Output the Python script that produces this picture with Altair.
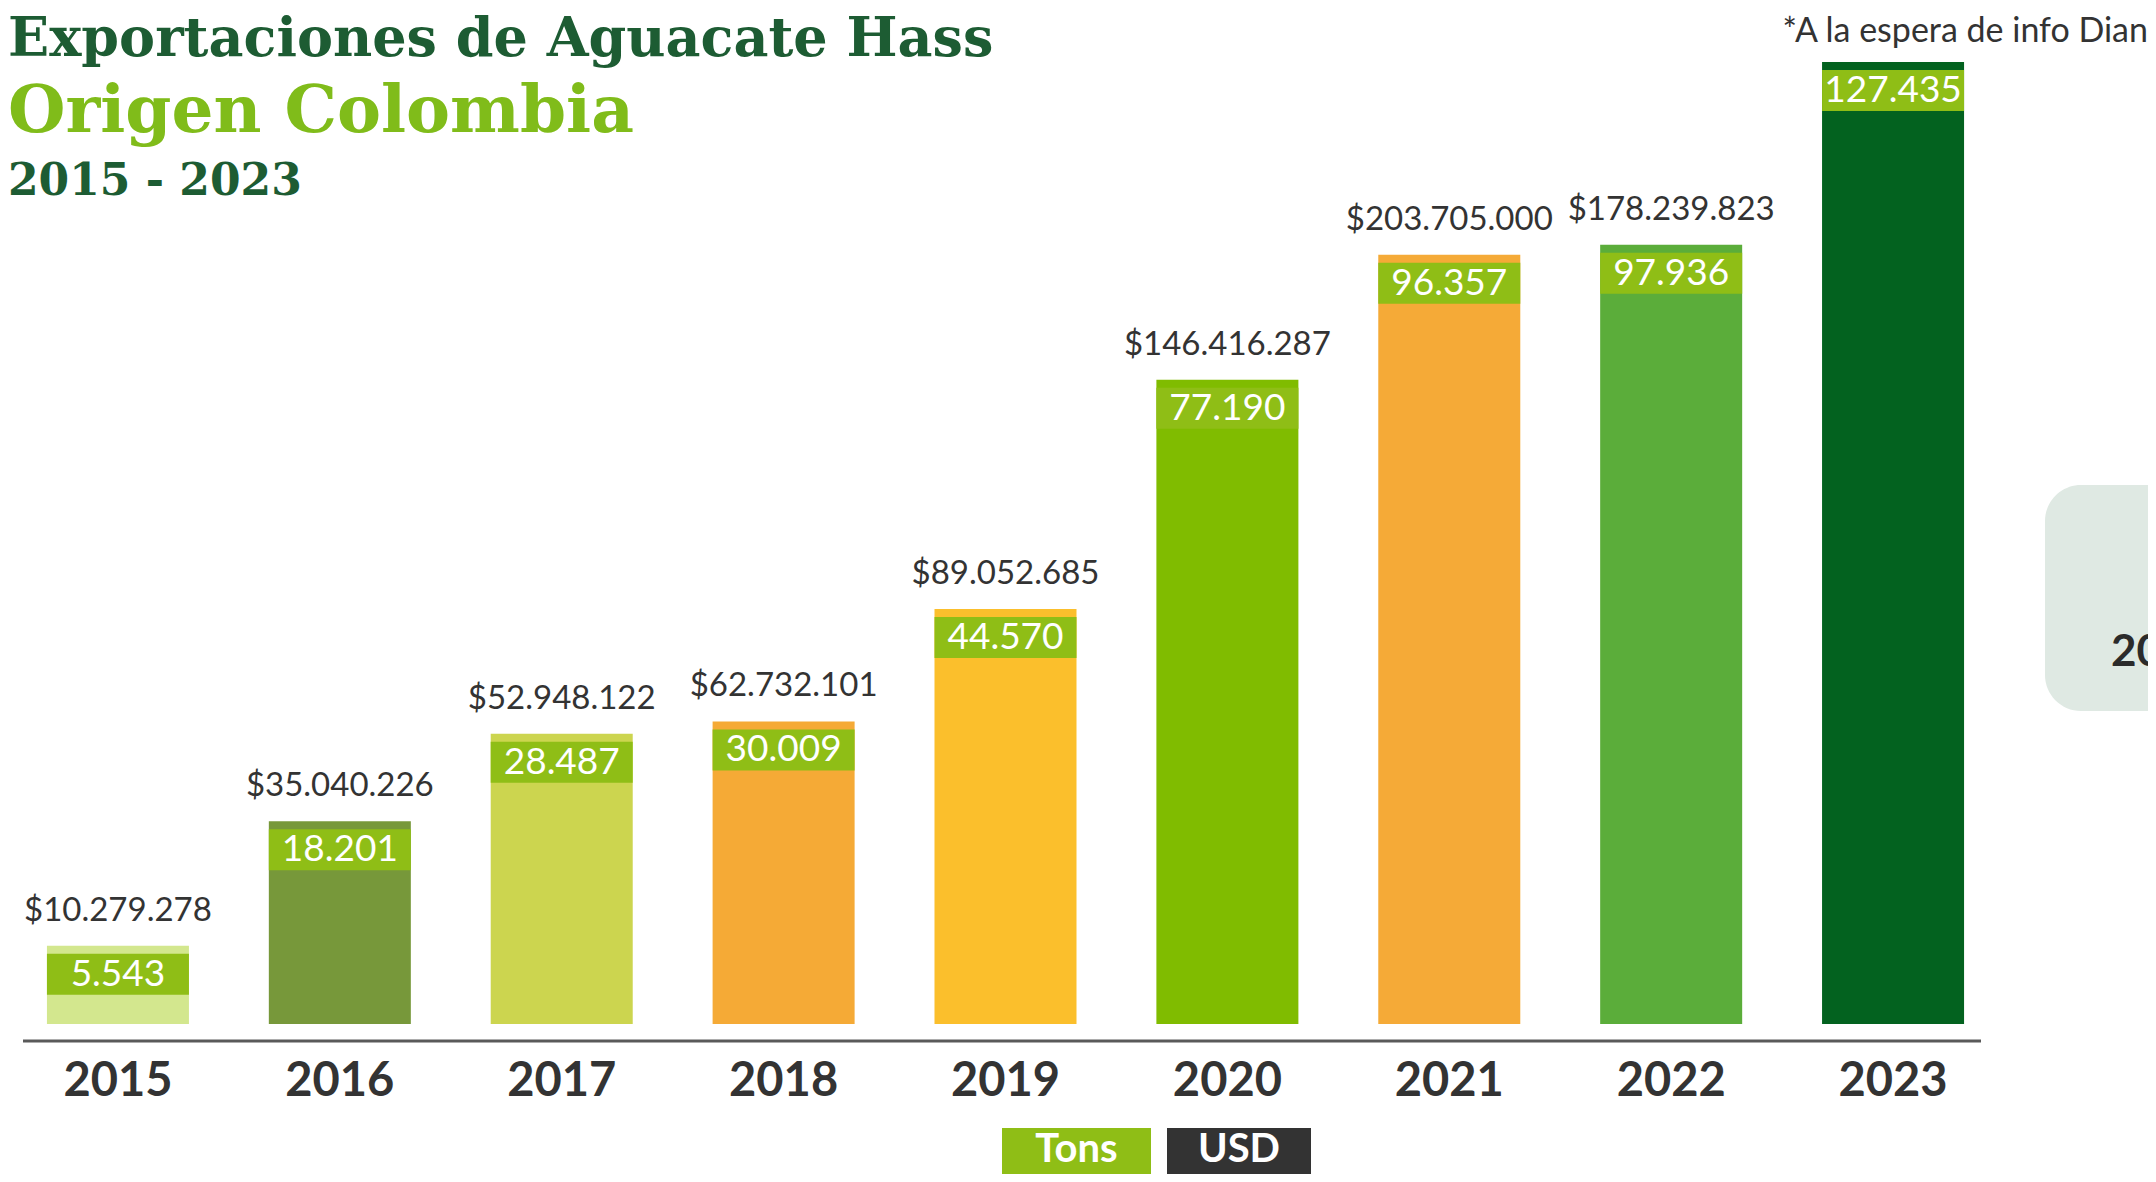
import altair as alt
import pandas as pd

# ---- data ----
years = ["2015", "2016", "2017", "2018", "2019", "2020", "2021", "2022", "2023"]
tons = [5543, 18201, 28487, 30009, 44570, 77190, 96357, 97936, 127435]
usd = [10279278, 35040226, 52948122, 62732101, 89052685, 146416287, 203705000, 178239823, None]
bar_colors = ["#d3e78e", "#77983a", "#ccd54f", "#f5aa36", "#fbbf2c",
              "#80bc00", "#f5aa37", "#5bad3a", "#03621f"]

title_1 = "Exportaciones de Aguacate Hass"
title_2 = "Origen Colombia"
title_3 = "2015 - 2023"
note = "*A la espera de info Dian"
legend_items = ["Tons", "USD"]
legend_colors = ["#8fbe16", "#333333"]
side_text = "20"

def fmt(v):
    return "" if v is None else "$" + f"{int(v):,}".replace(",", ".")

df = pd.DataFrame({
    "year": years,
    "tons": tons,
    "tons_label": [f"{t:,}".replace(",", ".") for t in tons],
    "usd_label": [fmt(v) for v in usd],
    "color": bar_colors,
})

W, H = 2140, 1166
NUM_FONT = "Lato"
TITLE_FONT = "DejaVu Serif"
band_color = "#8fbe16"

x_enc = alt.X("year:N", sort=years, axis=None,
              scale=alt.Scale(range=[-1, 1996], paddingInner=0.36, paddingOuter=0.18))
y_scale = alt.Scale(type="pow", exponent=0.8, domain=[0, 127435], range=[1016, 54])
y_enc = alt.Y("tons:Q", axis=None, scale=y_scale)

base = alt.Chart(df)

bars = base.mark_bar().encode(
    x=x_enc, y=y_enc, y2=alt.datum(0),
    color=alt.Color("color:N", scale=None),
)

bands = base.mark_bar(yOffset=8, y2Offset=49, color=band_color).encode(
    x=x_enc, y=y_enc, y2="tons:Q",
)

tons_text = base.mark_text(font=NUM_FONT, fontSize=37, color="white",
                           baseline="middle", dy=29).encode(
    x=x_enc, y=y_enc, text="tons_label:N")

usd_text = base.mark_text(font=NUM_FONT, fontSize=33, color="#333333",
                          baseline="middle", dy=-35).encode(
    x=x_enc, y=y_enc, text="usd_label:N")

year_text = base.mark_text(font=NUM_FONT, fontSize=47, fontWeight="bold", color="#333333",
                           baseline="middle").encode(
    x=x_enc, y=alt.value(1074), text="year:N")

axis_line = alt.Chart(pd.DataFrame({"a": [0]})).mark_rule(color="#5a5a5a", strokeWidth=3).encode(
    x=alt.value(15), x2=alt.value(1973), y=alt.value(1033))

def text_layer(txt, **kw):
    pos = {k: kw.pop(k) for k in ["x", "y"]}
    return alt.Chart(pd.DataFrame({"t": [txt]})).mark_text(**kw).encode(
        x=alt.value(pos["x"]), y=alt.value(pos["y"]), text="t:N")

t1 = text_layer(title_1, x=0, y=48, font=TITLE_FONT, fontSize=54, fontWeight="bold",
                color="#1d5c33", align="left", baseline="alphabetic")
t2 = text_layer(title_2, x=0, y=124, font=TITLE_FONT, fontSize=66, fontWeight="bold",
                color="#80bc1a", align="left", baseline="alphabetic")
t3 = text_layer(title_3, x=0, y=187, font=TITLE_FONT, fontSize=44, fontWeight="bold",
                color="#1d5c33", align="left", baseline="alphabetic")
t_note = text_layer(note, x=2140, y=24, font=NUM_FONT, fontSize=34, color="#333333",
                    align="right", baseline="middle")

# legend boxes
leg_layers = []
leg_x = [(994, 1143), (1159, 1303)]
for (x0, x1), lab, col in zip(leg_x, legend_items, legend_colors):
    d = pd.DataFrame({"t": [lab]})
    leg_layers.append(alt.Chart(d).mark_rect(color=col).encode(
        x=alt.value(x0), x2=alt.value(x1), y=alt.value(1120), y2=alt.value(1200)))
    leg_layers.append(alt.Chart(d).mark_text(font=NUM_FONT, fontSize=40, fontWeight="bold",
                                             color="white", baseline="middle").encode(
        x=alt.value((x0 + x1) / 2), y=alt.value(1142), text="t:N"))

# side box (cut off at the right edge)
side_box = alt.Chart(pd.DataFrame({"a": [0]})).mark_rect(color="#dfe9e3", cornerRadius=36).encode(
    x=alt.value(2037), x2=alt.value(2200), y=alt.value(477), y2=alt.value(703))
side_t = text_layer(side_text, x=2103, y=645, font=NUM_FONT, fontSize=44, fontWeight="bold",
                    color="#2b2b2b", align="left", baseline="middle")

chart = alt.layer(
    side_box, side_t, bars, bands, tons_text, usd_text, year_text, axis_line,
    t1, t2, t3, t_note, *leg_layers
).properties(
    width=W, height=H, autosize=alt.AutoSizeParams(type="none"), padding=0
).configure_view(stroke=None)

chart.save("out.html", embed_options={"renderer": "svg", "actions": False})
